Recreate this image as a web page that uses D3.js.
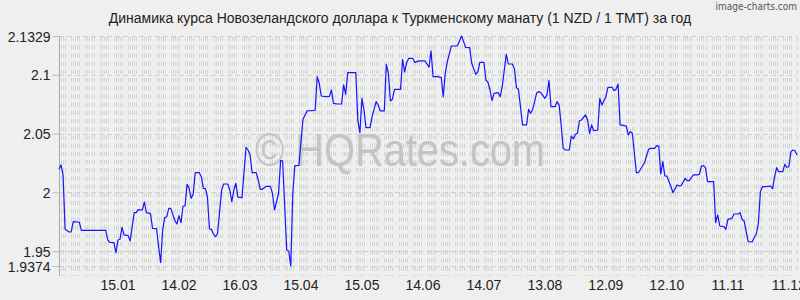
<!DOCTYPE html>
<html lang="ru">
<head>
    <meta charset="UTF-8">
    <title>NZD / TMT</title>
    <script src="https://d3js.org/d3.v7.min.js"></script>
    <style>
        body {
            margin: 0;
            background-color: #efefef;
            font-family: "Liberation Sans", Arial, sans-serif;
        }
        svg { display: block; }
        .axis text {
            font-size: 14px;
            fill: #222;
        }
    </style>
</head>
<body>
    <svg id="chart" width="800" height="300"></svg>

    <script>
        // Chart data
        const startDate = "2024-12-17";
        const endDate = "2025-12-15";
        const dayOffsets = [
            0,1,2,3,5,6,7,9,10,11,23,24,25,27,28,29,30,31,32,34,35,37,38,39,41,42,43,45,46,48,
            49,50,51,52,53,54,55,57,58,59,60,61,62,63,64,65,66,67,69,70,71,72,73,74,75,76,77,78,
            80,81,83,84,85,86,87,88,90,92,93,94,95,97,98,99,100,102,104,105,106,108,109,110,112,113,
            114,115,116,118,120,122,124,126,127,128,129,131,133,134,135,137,139,140,141,142,144,146,147,148,
            149,150,151,153,154,156,157,158,160,161,162,163,164,165,168,169,170,171,172,174,175,177,180,182,
            183,184,186,188,189,190,191,193,195,196,198,199,200,202,203,205,206,207,209,210,211,212,213,214,
            216,217,218,220,221,223,224,225,226,228,230,231,232,233,235,236,237,239,240,241,242,244,245,246,
            247,248,249,251,252,253,254,255,256,257,259,260,261,262,263,265,266,267,269,270,272,273,274,275,
            276,278,279,280,281,282,284,285,287,288,290,291,293,294,295,296,297,298,299,301,302,304,305,306,
            308,309,310,312,314,315,316,317,318,319,322,323,324,325,327,328,329,331,332,334,335,336,337,338,
            339,341,342,343,344,345,346,348,350,351,352,353,354,356,357,358,359,360,361,362,363
        ];
        const rates = [
            2.0196,2.0233,2.0148,1.9686,1.9663,1.9663,1.9751,1.9748,1.9746,1.9677,1.9677,1.9595,1.9575,1.9572,1.9487,1.9595,1.9601,1.9703,1.9638,1.9632,1.9587,1.9827,1.9827,1.9853,1.9850,1.9918,1.9827,1.9819,1.9694,1.9691,
            1.9538,1.9405,1.9680,1.9785,1.9793,1.9864,1.9864,1.9759,1.9731,1.9802,1.9742,1.9884,1.9884,2.0068,2.0034,1.9949,1.9983,2.0167,2.0167,2.0133,2.0034,2.0031,1.9963,1.9689,1.9686,1.9643,1.9623,1.9652,
            2.0020,2.0071,2.0071,2.0020,1.9921,2.0020,2.0077,1.9960,1.9955,2.0383,2.0360,2.0318,2.0167,2.0167,2.0105,2.0026,2.0026,2.0051,2.0051,1.9992,1.9850,1.9992,2.0269,2.0267,1.9510,1.9502,
            1.9374,1.9992,2.0227,2.0230,2.0621,2.0692,2.0694,2.0698,2.0983,2.0927,2.0819,2.0813,2.0816,2.0870,2.0757,2.0751,2.0751,2.0913,2.0833,2.1017,2.1017,2.1017,2.0609,2.0507,
            2.0799,2.0700,2.0550,2.0550,2.0643,2.0771,2.0743,2.0692,2.0692,2.1088,2.1012,2.0777,2.0791,2.0876,2.0876,2.1131,2.1023,2.1102,2.1139,2.1139,2.1105,2.1117,2.1117,2.1063,
            2.1202,2.0983,2.0983,2.0978,2.0813,2.1012,2.1111,2.1244,2.1244,2.1247,2.1329,2.1281,2.1233,2.1230,2.1097,2.1003,2.1025,2.1105,2.1105,2.0955,2.0935,2.0870,2.0779,2.0842,
            2.0847,2.0813,2.0898,2.1173,2.1091,2.1091,2.1049,2.0890,2.0876,2.0573,2.0573,2.0706,2.0672,2.0706,2.0847,2.0856,2.0847,2.0799,2.0828,2.0949,2.0728,2.0728,2.0771,2.0743,
            2.0573,2.0374,2.0360,2.0360,2.0479,2.0454,2.0493,2.0502,2.0609,2.0615,2.0658,2.0615,2.0502,2.0573,2.0524,2.0530,2.0799,2.0743,2.0813,2.0893,2.0893,2.0864,2.0876,2.0921,
            2.0573,2.0567,2.0564,2.0488,2.0516,2.0502,2.0167,2.0167,2.0224,2.0252,2.0366,2.0374,2.0374,2.0397,2.0394,2.0156,2.0261,2.0139,2.0139,2.0048,1.9997,2.0063,2.0054,2.0057,
            2.0119,2.0099,2.0099,2.0148,2.0148,2.0153,2.0224,2.0227,2.0210,2.0091,2.0091,1.9742,1.9808,1.9714,1.9708,1.9686,1.9771,1.9779,1.9816,1.9816,1.9827,1.9771,1.9757,1.9666,
            1.9581,1.9578,1.9618,1.9646,1.9737,2.0006,2.0048,2.0048,2.0054,2.0031,2.0133,2.0210,2.0176,2.0176,2.0238,2.0213,2.0218,2.0346,2.0360,2.0354,2.0318
        ];
        const yTickValues = [2.1329, 2.1, 2.05, 2, 1.95, 1.9374];
        const yTickLabels = ["2.1329", "2.1", "2.05", "2", "1.95", "1.9374"];
        const xTickDates = ["2025-01-15","2025-02-14","2025-03-16","2025-04-15","2025-05-15","2025-06-14",
                            "2025-07-14","2025-08-13","2025-09-12","2025-10-12","2025-11-11","2025-12-11"];
        const xTickLabels = ["15.01","14.02","16.03","15.04","15.05","14.06","14.07","13.08","12.09","12.10","11.11","11.12"];
        const title = "Динамика курса Новозеландского доллара к Туркменскому манату (1 NZD / 1 TMT) за год";

        const parse = d3.timeParse("%Y-%m-%d");
        const start = parse(startDate);
        const end = parse(endDate);
        const data = dayOffsets.map((d, i) => ({ date: d3.timeDay.offset(start, d), value: rates[i] }));

        const svg = d3.select("#chart");
        const plot = { left: 59, right: 797, top: 36, bottom: 266 };

        const x = d3.scaleTime().domain([start, end]).range([plot.left, plot.right]);
        const y = d3.scaleLinear().domain([1.9374, 2.1329]).range([plot.bottom, plot.top]);

        // background
        svg.append("rect").attr("width", 800).attr("height", 300).attr("fill", "#efefef");

        // vertical day grid (weekdays only), dashed
        const days = d3.timeDay.range(start, d3.timeDay.offset(end, 1))
            .filter(d => d.getDay() !== 0 && d.getDay() !== 6);
        svg.append("g")
            .selectAll("line")
            .data(days)
            .join("line")
            .attr("x1", d => Math.round(x(d)) + 0.5)
            .attr("x2", d => Math.round(x(d)) + 0.5)
            .attr("y1", plot.top + 1)
            .attr("y2", 276)
            .attr("stroke", "#d3d3d3")
            .attr("stroke-width", 1)
            .attr("stroke-dasharray", "4.2,4");

        // horizontal dashed grid at labelled values
        svg.append("g")
            .selectAll("line")
            .data(yTickValues)
            .join("line")
            .attr("x1", plot.left)
            .attr("x2", plot.right)
            .attr("y1", d => Math.round(y(d)) + 0.5)
            .attr("y2", d => Math.round(y(d)) + 0.5)
            .attr("stroke", "#cfcfcf")
            .attr("stroke-width", 1)
            .attr("stroke-dasharray", "5,3");

        // watermark
        svg.append("text")
            .attr("x", 400)
            .attr("y", 166)
            .attr("text-anchor", "middle")
            .attr("textLength", 290)
            .attr("lengthAdjust", "spacingAndGlyphs")
            .style("font-size", "47px")
            .style("fill", "#c4c4c4")
            .text("© HQRates.com");

        // y axis
        const yAxis = d3.axisLeft(y)
            .tickValues(yTickValues)
            .tickFormat((d, i) => yTickLabels[i])
            .tickSize(7)
            .tickSizeOuter(0)
            .tickPadding(2);
        const gy = svg.append("g")
            .attr("class", "axis")
            .attr("transform", `translate(${plot.left + 0.5},0)`)
            .call(yAxis);
        gy.select(".domain").attr("stroke", "#aaa").attr("d", `M0,${plot.top}V276`);
        gy.selectAll(".tick line").attr("stroke", "#bbb");
        gy.selectAll("text").attr("dy", "0.36em").attr("fill", "#222");

        // x axis labels
        svg.append("g")
            .attr("class", "axis")
            .selectAll("text")
            .data(xTickDates)
            .join("text")
            .attr("x", d => x(parse(d)))
            .attr("y", 290)
            .attr("text-anchor", "middle")
            .text((d, i) => xTickLabels[i]);

        // rate line
        const line = d3.line()
            .x(d => x(d.date))
            .y(d => y(d.value));
        svg.append("path")
            .datum(data)
            .attr("d", line)
            .attr("fill", "none")
            .attr("stroke", "#1414ff")
            .attr("stroke-width", 1.2)
            .attr("stroke-linejoin", "round");

        // title
        svg.append("text")
            .attr("x", 400)
            .attr("y", 23)
            .attr("text-anchor", "middle")
            .style("font-size", "14px")
            .style("fill", "#222")
            .text(title);

        // credit
        svg.append("text")
            .attr("x", 797)
            .attr("y", 10)
            .attr("text-anchor", "end")
            .style("font-size", "10px")
            .style("font-family", "'DejaVu Sans Condensed', sans-serif")
            .style("fill", "#555")
            .text("image-charts.com");
    </script>
</body>
</html>
